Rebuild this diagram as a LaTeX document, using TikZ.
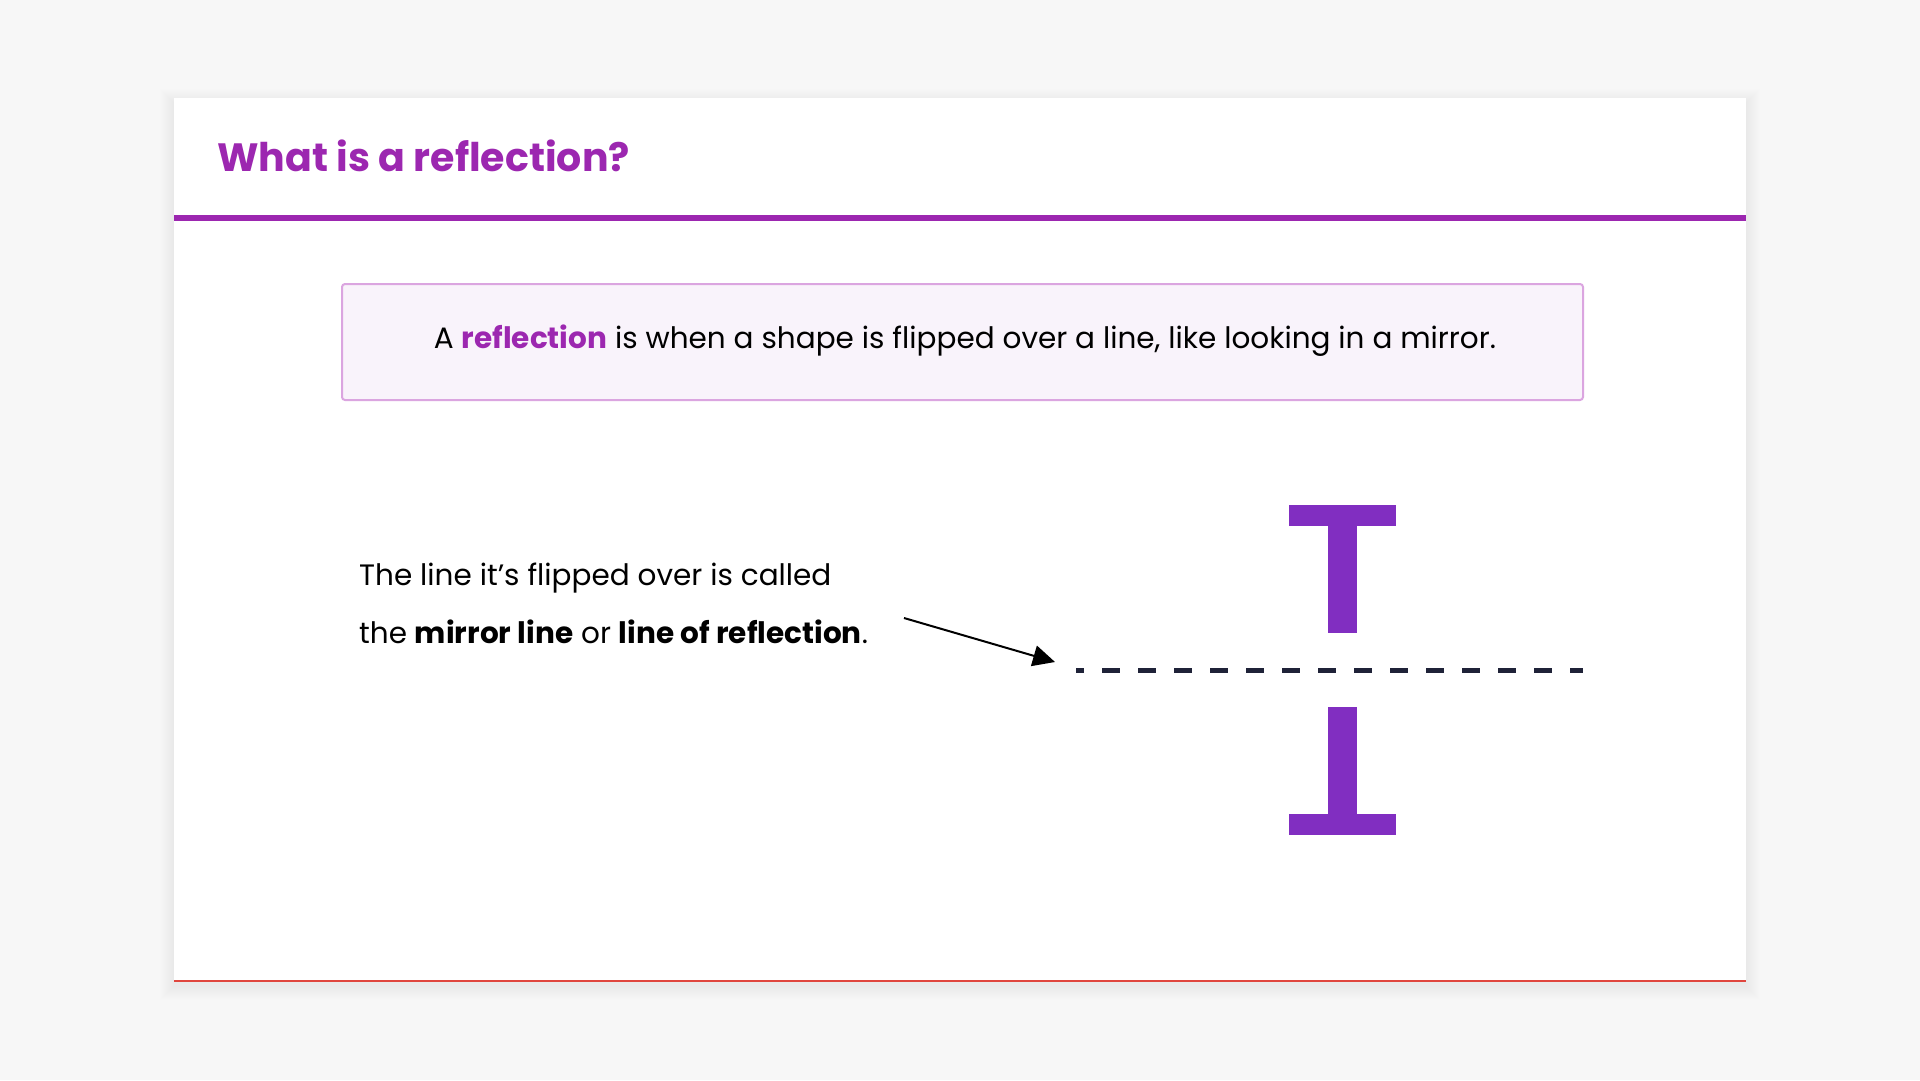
\documentclass[tikz,border=0pt]{standalone}
\usepackage{fontspec}
\setmainfont{Poppins}
\usetikzlibrary{calc, positioning, arrows.meta}
\definecolor{pagebg}{HTML}{F7F7F7}
\definecolor{titlepurple}{HTML}{9C27B0}
\definecolor{boxborder}{HTML}{DBA5E0}
\definecolor{boxfill}{HTML}{F9F3FB}
\definecolor{shapepurple}{HTML}{812EC1}
\definecolor{mirrordark}{HTML}{1F2238}
\definecolor{edgered}{HTML}{E0463E}

\begin{document}
\begin{tikzpicture}[
    x=1pt, y=-1pt,
    titletext/.style={font=\fontsize{39.5}{48}\selectfont\bfseries, text=titlepurple, inner sep=0pt},
    deftext/.style={font=\fontsize{29.5}{35}\selectfont, text=black, inner sep=0pt},
    bodytext/.style={font=\fontsize{29.5}{35}\selectfont, text=black, inner sep=0pt},
    defbox/.style={draw=boxborder, line width=2pt, fill=boxfill, rounded corners=3pt},
    letterT/.style={fill=shapepurple},
    mirror/.style={draw=mirrordark, line width=5pt, dash pattern=on 18pt off 18pt, dash phase=10pt},
    arrow/.style={-{Triangle[length=22pt, width=21pt]}, line width=2pt, draw=black}
]
\useasboundingbox (0,0) rectangle (1920,1080);
\fill[pagebg] (0,0) rectangle (1920,1080);

% card with soft shadow
\foreach \s in {1,...,14}
    \fill[black, opacity=0.0035] (174-\s,98-\s+5) rectangle (1746+\s,981+\s+5);
\fill[white] (174,98) rectangle (1746,981);
\draw[edgered, line width=1.2pt] (174,981) -- (1746,981);

% heading
\node[titletext, anchor=base west] (title) at (217,171) {What is a reflection?};
\fill[titlepurple] (174,215) rectangle (1746,221);

% definition
\draw[defbox] (342,284) rectangle (1583,400);
\node[deftext, anchor=base] (definition) at (965,348)
    {A \textcolor{titlepurple}{\bfseries reflection} is when a shape is flipped over a line, like looking in a mirror.};

% explanation
\node[bodytext, anchor=base west] (lineA) at (359,585) {The line it’s flipped over is called};
\node[bodytext, anchor=base west] (lineB) at ([yshift=-58pt]lineA.base west)
    {the \textbf{mirror line} or \textbf{line of reflection}.};

% mirror line
\coordinate (mirrorL) at (1076,670);
\coordinate (mirrorR) at (1583,670);
\draw[mirror] (mirrorL) -- (mirrorR);

% letter T and its image
\fill[letterT] (1289,505) rectangle (1396,526);
\fill[letterT] (1328,526) rectangle (1357,633);
\fill[letterT] (1328,707) rectangle (1357,814);
\fill[letterT] (1289,814) rectangle (1396,835);

% pointer
\coordinate (tail) at (904,618);
\coordinate (tip) at (1055,662);
\draw[arrow] (tail) -- (tip);
\end{tikzpicture}
\end{document}
